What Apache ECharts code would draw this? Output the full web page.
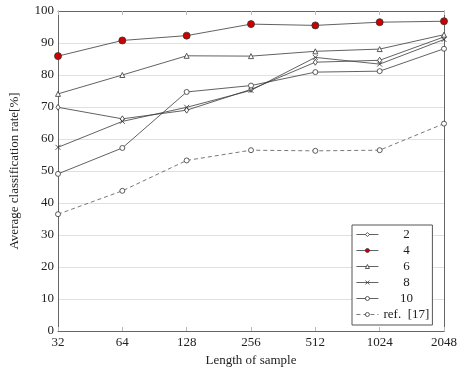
<!DOCTYPE html>
<html><head><meta charset="utf-8">
<script src="https://cdn.jsdelivr.net/npm/echarts@6/dist/echarts.min.js"></script>
<style>html,body{margin:0;padding:0;background:#fff}#c{width:465px;height:372px}</style>
</head><body><div id="c"></div>
<script>
const categories = ['32','64','128','256','512','1024','2048'];
const yTicks = [0,10,20,30,40,50,60,70,80,90,100];
const s2 = [69.9, 66.3, 69.0, 75.5, 84.0, 84.6, 91.9];
const s4 = [85.9, 90.8, 92.3, 95.9, 95.5, 96.5, 96.8];
const s6 = [74.1, 80.0, 86.0, 85.9, 87.4, 88.1, 92.6];
const s8 = [57.4, 65.5, 69.9, 75.2, 85.5, 83.4, 91.1];
const s10 = [49.1, 57.2, 74.7, 76.7, 80.9, 81.2, 88.2];
const sRef = [36.5, 43.8, 53.3, 56.5, 56.3, 56.5, 64.8];
const names = ['2','4','6','8','10','ref.  [17]'];

const FONT = 'Liberation Serif';
const LC = '#3a3a3a';
function mk(name, data, symbol, size, fill, dashed) {
  return {
    name, type: 'line', data, symbol, symbolSize: size, xAxisIndex: 0, yAxisIndex: 0,
    showAllSymbol: true,
    lineStyle: {color: dashed ? '#555' : LC, width: 0.8, type: dashed ? [4,3] : 'solid'},
    itemStyle: {color: fill, borderColor: '#333', borderWidth: 0.8},
    emphasis: {disabled: true}, animation: false
  };
}
const chart = echarts.init(document.getElementById('c'), null, {renderer: 'canvas'});
chart.setOption({
  animation: false,
  grid: {left: 58, right: 21, top: 11, bottom: 36},
  xAxis: [{
    type: 'category', data: categories, boundaryGap: false, position: 'bottom',
    name: 'Length of sample', nameLocation: 'middle', nameGap: 23,
    nameTextStyle: {fontFamily: FONT, fontSize: 13, color: '#222'},
    axisLine: {onZero: false, lineStyle: {color: '#666', width: 1}},
    axisTick: {inside: true, length: 4, lineStyle: {color: '#bbb'}},
    axisLabel: {fontFamily: FONT, fontSize: 13, color: '#222', margin: 5},
    splitLine: {show: false}
  }, {
    type: 'category', data: categories, boundaryGap: false, position: 'top',
    axisLine: {onZero: false, lineStyle: {color: '#666', width: 1}},
    axisTick: {inside: true, length: 4, lineStyle: {color: '#bbb'}},
    axisLabel: {show: false}, splitLine: {show: false}
  }],
  yAxis: [{
    type: 'value', min: 0, max: 100, interval: 10,
    name: 'Average classification rate[%]', nameLocation: 'middle', nameGap: 37,
    nameTextStyle: {fontFamily: FONT, fontSize: 13, color: '#222'},
    axisLine: {show: true, onZero: false, lineStyle: {color: '#666', width: 1}},
    axisTick: {show: false},
    axisLabel: {fontFamily: FONT, fontSize: 13, color: '#222', margin: 4,
      formatter: v => yTicks.includes(v) ? String(v) : ''},
    splitLine: {show: true, lineStyle: {color: '#e0e0e0', width: 1}}
  }, {
    type: 'value', min: 0, max: 100, interval: 10, position: 'right',
    axisLine: {show: true, onZero: false, lineStyle: {color: '#666', width: 1}},
    axisTick: {show: false}, axisLabel: {show: false}, splitLine: {show: false}
  }],
  legend: {
    orient: 'vertical', left: 352, top: 225,
    data: names,
    backgroundColor: '#fff', borderColor: '#555', borderWidth: 1, borderRadius: 0,
    padding: [3, 3, 4, 4],
    itemWidth: 22, itemHeight: 5, itemGap: 3,
    lineStyle: {width: 0.8},
    itemStyle: {borderWidth: 0.8},
    formatter: n => '{c|' + n + '}',
    textStyle: {fontFamily: FONT, fontSize: 13, color: '#222',
      rich: {c: {width: 46, align: 'center', fontFamily: FONT, fontSize: 13, lineHeight: 14, color: '#222'}}},
    selectedMode: false
  },
  series: [
    mk('2', s2, 'diamond', [4,6], '#fff', false),
    mk('4', s4, 'circle', 7, '#cc0000', false),
    mk('6', s6, 'triangle', 5, '#fff', false),
    mk('8', s8, 'path://M0,0L10,10M0,10L10,0', 5, 'none', false),
    mk('10', s10, 'circle', 5, '#fff', false),
    mk('ref.  [17]', sRef, 'circle', 5, '#fff', true)
  ]
});
</script></body></html>
